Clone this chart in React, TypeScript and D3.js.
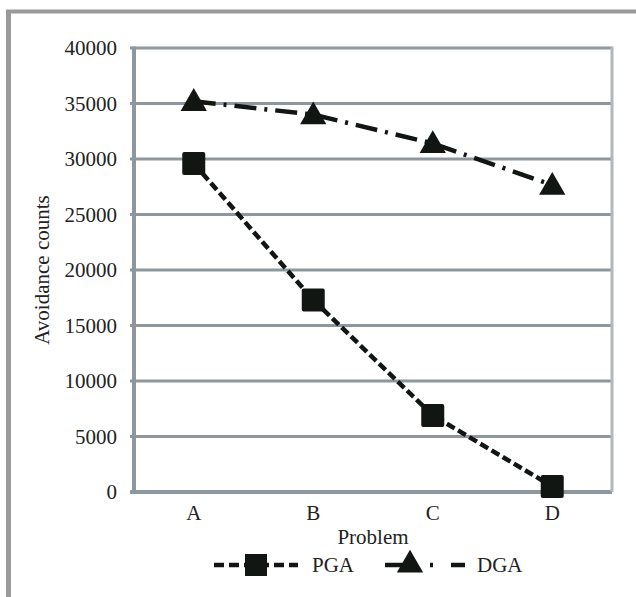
import React from "react";
import * as d3 from "d3";

const categories = ["A", "B", "C", "D"];
const pgaValues = [29600, 17300, 6900, 500];
const dgaValues = [35200, 34000, 31400, 27650];
const yTicks = [0, 5000, 10000, 15000, 20000, 25000, 30000, 35000, 40000];
const seriesNames = ["PGA", "DGA"];
const xTitle = "Problem";
const yTitle = "Avoidance counts";

const W = 636;
const H = 597;
const L = 134, R = 612, T = 48, B = 492;
const FONT = "'Liberation Serif', 'Times New Roman', serif";
const INK = "#111613";
const GRID = "#8e979e";

export default function App() {
  const x = d3.scalePoint<string>().domain(categories).range([L, R]).padding(0.5);
  const y = d3.scaleLinear().domain([0, 40000]).range([B, T]);
  const line = d3.line<number>().x((_, i) => x(categories[i]) as number).y((d) => y(d));
  const tri = d3.symbol().type(d3.symbolTriangle).size(300)();
  const sq = 23;

  return (
    <div style={{ position: "absolute", left: 0, top: 0 }}>
      <svg width={W} height={H} style={{ display: "block" }}>
        <rect width={W} height={H} fill="#fff" />
        {/* outer frame: top and left */}
        <line x1={6} x2={W} y1={11.5} y2={11.5} stroke="#9a9a9a" strokeWidth={4} />
        <line x1={8.5} x2={8.5} y1={10} y2={H} stroke="#9a9a9a" strokeWidth={5} />

        {/* gridlines */}
        {yTicks.map((t) => (
          <line key={t} x1={L - 4} x2={R} y1={y(t)} y2={y(t)} stroke={GRID} strokeWidth={t === 0 ? 4 : 3} />
        ))}
        <line x1={L} x2={L} y1={T - 1.5} y2={B + 1.5} stroke={GRID} strokeWidth={4} />
        <line x1={R} x2={R} y1={T - 1.5} y2={B} stroke="#b4b7ba" strokeWidth={3} />

        {/* y tick labels */}
        {yTicks.map((t) => (
          <text key={t} x={117} y={y(t)} dy="0.35em" textAnchor="end" fontFamily={FONT} fontSize={21} fill="#222">
            {t}
          </text>
        ))}
        {/* x tick labels */}
        {categories.map((c) => (
          <text key={c} x={x(c)} y={513} dy="0.35em" textAnchor="middle" fontFamily={FONT} fontSize={21} fill="#222">
            {c}
          </text>
        ))}
        <text x={373} y={537} dy="0.35em" textAnchor="middle" fontFamily={FONT} fontSize={21} fill="#222">
          {xTitle}
        </text>
        <text transform={`translate(42,${(T + B) / 2}) rotate(-90)`} dy="0.35em" textAnchor="middle" fontFamily={FONT} fontSize={21} fill="#222">
          {yTitle}
        </text>

        {/* series lines */}
        <path d={line(dgaValues) || ""} fill="none" stroke={INK} strokeWidth={4.5} strokeDasharray="22 8 3 8" />
        <path d={line(pgaValues) || ""} fill="none" stroke={INK} strokeWidth={4.5} strokeDasharray="9 4" />

        {/* markers */}
        {dgaValues.map((v, i) => (
          <path key={"d" + i} d={tri || ""} transform={`translate(${x(categories[i])},${y(v) + 2})`} fill={INK} />
        ))}
        {pgaValues.map((v, i) => (
          <rect key={"p" + i} x={(x(categories[i]) as number) - sq / 2} y={y(v) - sq / 2} width={sq} height={sq} rx={2} fill={INK} />
        ))}

        {/* legend */}
        <line x1={214} x2={298} y1={565} y2={565} stroke={INK} strokeWidth={4.5} strokeDasharray="10 5" />
        <rect x={256 - 11} y={565 - 11} width={22} height={22} fill={INK} />
        <text x={312} y={565} dy="0.35em" fontFamily={FONT} fontSize={21} fill="#222">{seriesNames[0]}</text>

        <line x1={385} x2={465} y1={565} y2={565} stroke={INK} strokeWidth={4.5} strokeDasharray="24 21 3 18 17" />
        <path d={tri || ""} transform={`translate(410,565)`} fill={INK} />
        <text x={477} y={565} dy="0.35em" fontFamily={FONT} fontSize={21} fill="#222">{seriesNames[1]}</text>
      </svg>
    </div>
  );
}
